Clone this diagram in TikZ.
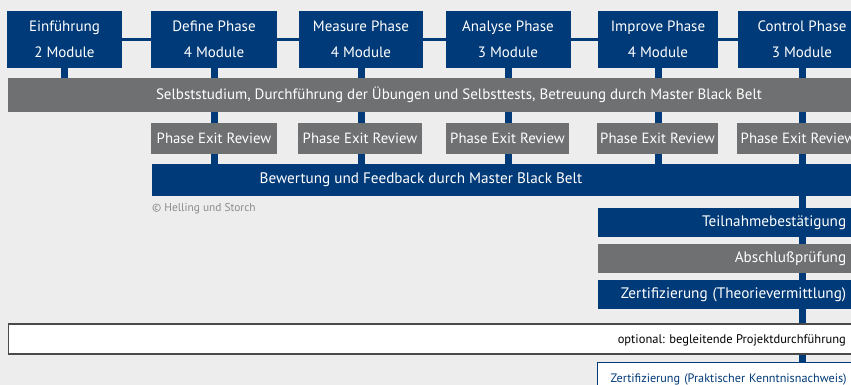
\documentclass[tikz,border=0pt]{standalone}
\usepackage{fontspec}
\setmainfont{PT Sans}
\usetikzlibrary{positioning,backgrounds}
\definecolor{hsblue}{HTML}{003A78}
\definecolor{hsgray}{HTML}{6F7072}
\definecolor{hsback}{HTML}{ECEDEC}
\definecolor{hsframe}{HTML}{4A4A4A}
\definecolor{hscopy}{HTML}{8C8C8C}

\begin{document}
\begin{tikzpicture}[x=1pt,y=-1pt,
    phase/.style={fill=hsblue,text=white,align=center,minimum height=57pt,inner sep=0pt,
      font=\fontsize{15}{26}\selectfont},
    band/.style={fill=hsgray,text=white,minimum height=34pt,inner sep=0pt,
      font=\fontsize{15}{18}\selectfont},
    review/.style={fill=hsgray,text=white,minimum height=31pt,inner sep=0pt,
      font=\fontsize{14.8}{18}\selectfont},
    rightbox/.style={anchor=west,text width=242pt,align=right,inner xsep=6pt,inner ysep=0pt,
      minimum height=29pt,font=\fontsize{15.2}{18}\selectfont},
    link/.style={draw=hsblue,line width=7pt}]
    \useasboundingbox (0,0) rectangle (851,385);
    % Phasen
    \node[phase,minimum width=115pt] (einf)    at (64.5,39.5) {Einführung\\2 Module};
    \node[phase,minimum width=126pt] (define)  at (214,39.5)  {Define Phase\\4 Module};
    \node[phase,minimum width=124pt] (measure) at (361,39.5)  {Measure Phase\\4 Module};
    \node[phase,minimum width=125pt] (analyse) at (508,39.5)  {Analyse Phase\\3 Module};
    \node[phase,minimum width=120pt] (improve) at (658,39.5)  {Improve Phase\\4 Module};
    \node[phase,minimum width=128pt] (control) at (802,39.5)  {Control Phase\\3 Module};
    % Selbststudium
    \node[band,minimum width=902pt] (selbst) at (459,95)
      {Selbststudium, Durchführung der Übungen und Selbsttests, Betreuung durch Master Black Belt};
    % Reviews
    \node[review,minimum width=126pt] (rdefine)  at (214,138.5)   {Phase Exit Review};
    \node[review,minimum width=124pt] (rmeasure) at (360,138.5)   {Phase Exit Review};
    \node[review,minimum width=123pt] (ranalyse) at (507.5,138.5) {Phase Exit Review};
    \node[review,minimum width=121pt] (rimprove) at (657.5,138.5) {Phase Exit Review};
    \node[review,minimum width=122pt] (rcontrol) at (798,138.5)   {Phase Exit Review};
    % Bewertung
    \node[fill=hsblue,minimum width=720pt,minimum height=32pt,inner sep=0pt,anchor=west] (bewert) at (152,180) {};
    \node[text=white,font=\fontsize{15.2}{18}\selectfont] (bewerttext) at (421,180)
      {Bewertung und Feedback durch Master Black Belt};
    \node[anchor=west,inner sep=0pt,text=hscopy,font=\fontsize{11.4}{13}\selectfont] (copy) at (152,209)
      {© Helling und Storch};
    % Abschluss
    \node[rightbox,fill=hsblue,text=white] (teilnahme) at (598,222.5) {Teilnahmebestätigung};
    \node[rightbox,fill=hsgray,text=white] (pruefung)  at (598,258.5) {Abschlußprüfung};
    \node[rightbox,fill=hsblue,text=white] (theorie)   at (598,294.5) {Zertifizierung (Theorievermittlung)};
    \node[draw=hsframe,line width=1.3pt,fill=white,minimum width=880pt,minimum height=30pt,inner sep=0pt,anchor=west] (optional) at (8,339) {};
    \node[anchor=east,inner sep=0pt,font=\fontsize{12.5}{15}\selectfont] (optionaltext) at (846,340)
      {optional: begleitende Projektdurchführung};
    \node[draw=hsblue,line width=1.2pt,fill=white,text=hsblue,anchor=north west,minimum height=34pt,
      text width=239pt,align=right,inner xsep=10pt,inner ysep=0pt,font=\fontsize{12.2}{14}\selectfont] (prakt) at (597,362)
      {Zertifizierung (Praktischer Kenntnisnachweis)};
    % Verbindungen
    \begin{pgfonlayer}{background}
      \fill[hsback] (0,0) rectangle (851,385);
      \draw[hsblue,line width=3pt] (einf) -- (control);
      \draw[link] (einf) -- (einf |- selbst);
      \foreach \p in {define,measure,analyse,improve}
        \draw[link] (\p) -- (\p |- bewert);
      \draw[link] (control) -- (control |- prakt.center);
    \end{pgfonlayer}
\end{tikzpicture}
\end{document}
